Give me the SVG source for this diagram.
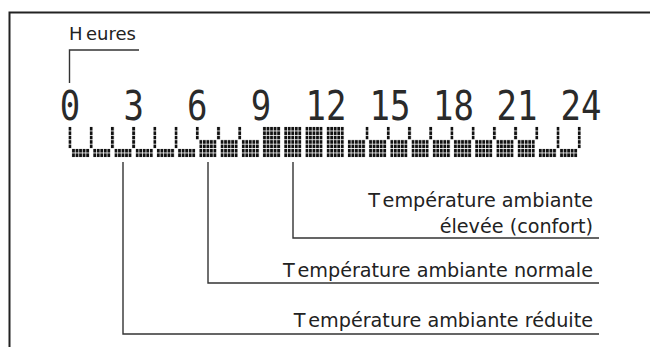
<svg xmlns="http://www.w3.org/2000/svg" width="650" height="347" viewBox="0 0 650 347">
<style>
.lbl{font-family:"DejaVu Sans",sans-serif;font-size:19.2px;fill:#222;text-anchor:end}
.hr{font-family:"DejaVu Sans",sans-serif;font-size:18px;fill:#222}
.dg{font-family:"DejaVu Sans Mono",monospace;font-size:40px;fill:#2a2a2a;text-anchor:middle}
.ln{fill:none;stroke:#333;stroke-width:1.4}
.dots{fill:url(#dot)}
</style>
<defs>
<pattern id="dot" patternUnits="userSpaceOnUse" x="68.6" y="127" width="3.5367" height="4.4">
<rect width="2.8" height="3.6" fill="#111"/>
</pattern>
</defs>
<rect width="650" height="347" fill="#fff"/>
<g id="frame">
<path d="M9.5 347V12.5H650" fill="none" stroke="#222" stroke-width="2"/>
</g>
<g id="heures">
<text class="hr" x="69" y="40">H<tspan dx="3.5">eures</tspan></text>
</g>
<g id="hour-digits">
<text class="dg" transform="translate(70,120) scale(0.85,1)">0</text>
<text class="dg" transform="translate(133.7,120) scale(0.85,1)">3</text>
<text class="dg" transform="translate(197.3,120) scale(0.85,1)">6</text>
<text class="dg" transform="translate(261,120) scale(0.85,1)">9</text>
<text class="dg" transform="translate(326,120) scale(0.85,1)">12</text>
<text class="dg" transform="translate(390,120) scale(0.85,1)">15</text>
<text class="dg" transform="translate(453.5,120) scale(0.85,1)">18</text>
<text class="dg" transform="translate(517,120) scale(0.85,1)">21</text>
<text class="dg" transform="translate(581,120) scale(0.85,1)">24</text>
</g>
<g id="bar">
<g id="blocks" class="dots">
<rect x="71.84" y="148.6" width="17.55" height="8.6"/>
<rect x="93.06" y="148.6" width="17.55" height="8.6"/>
<rect x="114.28" y="148.6" width="17.55" height="8.6"/>
<rect x="135.5" y="148.6" width="17.55" height="8.6"/>
<rect x="156.72" y="148.6" width="17.55" height="8.6"/>
<rect x="177.94" y="148.6" width="17.55" height="8.6"/>
<rect x="199.16" y="139.8" width="17.55" height="17.4"/>
<rect x="220.38" y="139.8" width="17.55" height="17.4"/>
<rect x="241.6" y="139.8" width="17.55" height="17.4"/>
<rect x="262.82" y="126.6" width="17.55" height="30.6"/>
<rect x="284.04" y="126.6" width="17.55" height="30.6"/>
<rect x="305.26" y="126.6" width="17.55" height="30.6"/>
<rect x="326.48" y="126.6" width="17.55" height="30.6"/>
<rect x="347.7" y="139.8" width="17.55" height="17.4"/>
<rect x="368.92" y="139.8" width="17.55" height="17.4"/>
<rect x="390.14" y="139.8" width="17.55" height="17.4"/>
<rect x="411.36" y="139.8" width="17.55" height="17.4"/>
<rect x="432.58" y="139.8" width="17.55" height="17.4"/>
<rect x="453.8" y="139.8" width="17.55" height="17.4"/>
<rect x="475.02" y="139.8" width="17.55" height="17.4"/>
<rect x="496.24" y="139.8" width="17.55" height="17.4"/>
<rect x="517.46" y="139.8" width="17.55" height="17.4"/>
<rect x="538.68" y="148.6" width="17.55" height="8.6"/>
<rect x="559.9" y="148.6" width="17.55" height="8.6"/>
</g>
<g id="separators" class="dots">
<rect x="68.3" y="126.6" width="3.4" height="21.9"/>
<rect x="89.52" y="126.6" width="3.4" height="21.9"/>
<rect x="110.74" y="126.6" width="3.4" height="21.9"/>
<rect x="131.96" y="126.6" width="3.4" height="21.9"/>
<rect x="153.18" y="126.6" width="3.4" height="21.9"/>
<rect x="174.4" y="126.6" width="3.4" height="21.9"/>
<rect x="195.62" y="126.6" width="3.4" height="13.1"/>
<rect x="216.84" y="126.6" width="3.4" height="13.1"/>
<rect x="238.06" y="126.6" width="3.4" height="13.1"/>
<rect x="365.38" y="126.6" width="3.4" height="13.1"/>
<rect x="386.6" y="126.6" width="3.4" height="13.1"/>
<rect x="407.82" y="126.6" width="3.4" height="13.1"/>
<rect x="429.04" y="126.6" width="3.4" height="13.1"/>
<rect x="450.26" y="126.6" width="3.4" height="13.1"/>
<rect x="471.48" y="126.6" width="3.4" height="13.1"/>
<rect x="492.7" y="126.6" width="3.4" height="13.1"/>
<rect x="513.92" y="126.6" width="3.4" height="13.1"/>
<rect x="535.14" y="126.6" width="3.4" height="13.1"/>
<rect x="556.36" y="126.6" width="3.4" height="21.9"/>
<rect x="577.58" y="126.6" width="3.4" height="21.9"/>
</g>
</g>
<g id="label-comfort">
<text class="lbl" x="593" y="207">T<tspan dx="6">empérature ambiante</tspan></text>
<text class="lbl" x="593" y="233">élevée (confort)</text>
</g>
<g id="label-normal">
<text class="lbl" x="593" y="277">T<tspan dx="6">empérature ambiante normale</tspan></text>
</g>
<g id="label-reduced">
<text class="lbl" x="593" y="327">T<tspan dx="6">empérature ambiante réduite</tspan></text>
</g>
<g id="connectors">
<path class="ln" d="M69.5 83V50H139" stroke="#222" stroke-width="1.6"/>
<path class="ln" d="M293 162V238H599"/>
<path class="ln" d="M208 162V283H599"/>
<path class="ln" d="M123 162V334H599"/>
</g>
</svg>
